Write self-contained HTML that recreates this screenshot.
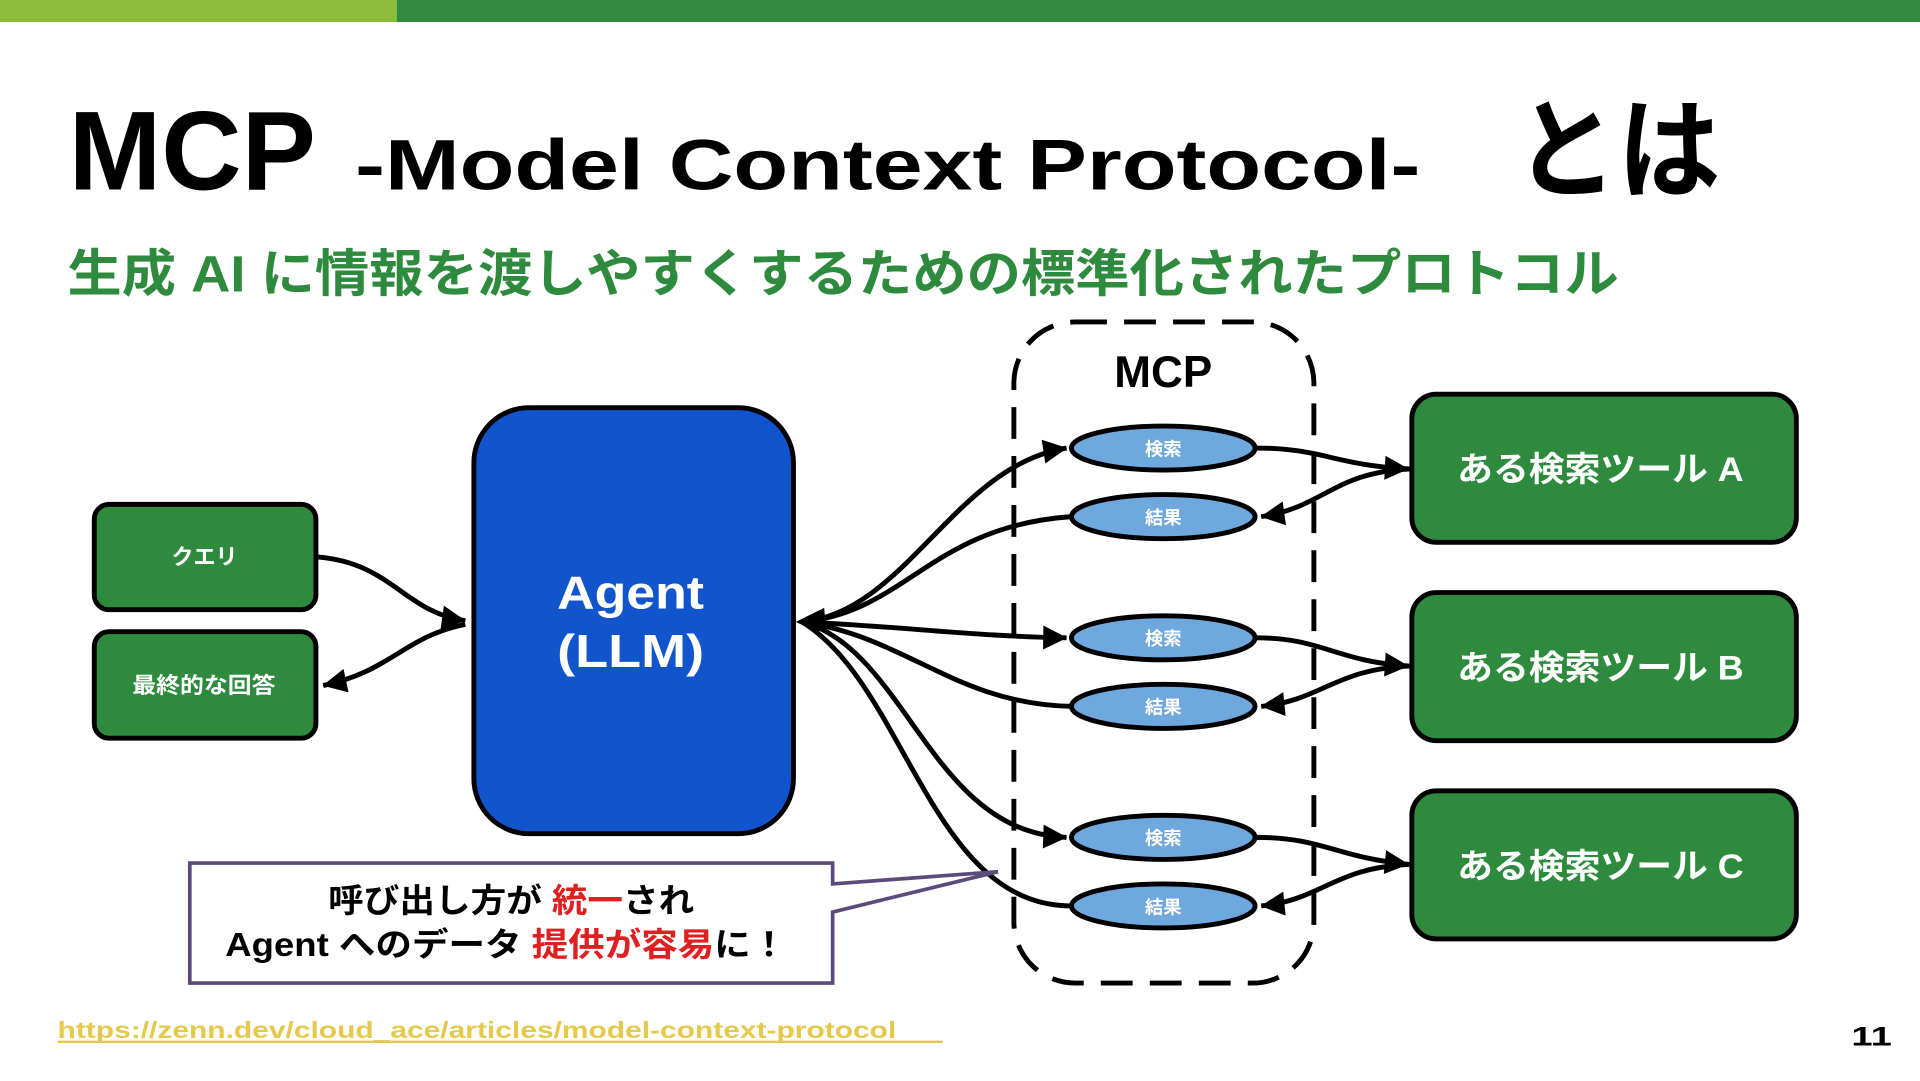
<!DOCTYPE html>
<html><head><meta charset="utf-8"><style>
html,body{margin:0;padding:0;background:#fff;}
svg{display:block;}
text{font-family:"Liberation Sans","Noto Sans CJK JP",sans-serif;font-weight:bold;}
</style></head><body>
<svg width="1920" height="1081" viewBox="0 0 1568 883" preserveAspectRatio="none" xmlns="http://www.w3.org/2000/svg">
<defs>
<marker id="a" viewBox="0 0 10 10" refX="9" refY="5" markerWidth="7" markerHeight="7" markerUnits="userSpaceOnUse" orient="auto" style="overflow:visible">
<path d="M0,0 L10,5 L0,10 z" fill="#000" transform="scale(2.8) translate(-6.5,-3.2)"/>
</marker>
</defs>
<rect x="0" y="0" width="324" height="18" fill="#8bbd3a"/>
<rect x="324" y="0" width="1244" height="18" fill="#338a41"/>
<text x="56" y="155" font-size="92" textLength="202" lengthAdjust="spacingAndGlyphs">MCP</text>
<text x="290" y="155" font-size="58" textLength="870" lengthAdjust="spacingAndGlyphs">-Model Context Protocol-</text>
<text x="1237" y="155" font-size="90" textLength="168" lengthAdjust="spacingAndGlyphs">とは</text>
<text x="55" y="238" font-size="42" fill="#2e8b3e" textLength="1267" lengthAdjust="spacingAndGlyphs">生成 AI に情報を渡しやすくするための標準化されたプロトコル</text>

<rect x="828" y="263" width="245" height="540" rx="50" fill="none" stroke="#000" stroke-width="4" stroke-dasharray="26,14"/>
<text x="950" y="316" font-size="36" text-anchor="middle">MCP</text>

<g fill="none" stroke="#000" stroke-width="4">
<path d="M260,455 C320,460 330,500 380,507" marker-end="url(#a)"/>
<path d="M380,510 C330,520 320,548 264,560" marker-end="url(#a)"/>
<path d="M655,508 C740,500 780,380 871,366" marker-end="url(#a)"/>
<path d="M875,422 C760,430 740,500 655,508" marker-end="url(#a)"/>
<path d="M655,508 C740,512 800,520 871,521" marker-end="url(#a)"/>
<path d="M875,577 C780,575 740,520 655,508"/>
<path d="M655,508 C740,530 760,680 871,684" marker-end="url(#a)"/>
<path d="M875,740 C760,740 740,560 655,508"/>
<path d="M1026,366 C1080,366 1090,380 1150,383" marker-end="url(#a)"/>
<path d="M1153,383 C1090,385 1080,415 1030,422" marker-end="url(#a)"/>
<path d="M1026,521 C1080,521 1090,540 1150,544" marker-end="url(#a)"/>
<path d="M1153,544 C1090,546 1080,572 1030,577" marker-end="url(#a)"/>
<path d="M1026,684 C1080,684 1090,700 1150,706" marker-end="url(#a)"/>
<path d="M1153,706 C1090,708 1080,735 1030,740" marker-end="url(#a)"/>
</g>
<path d="M650,508 l20,-10 l-4,10 l4,10z" fill="#000"/>

<g stroke="#000" stroke-width="4" fill="#6fa8dc">
<ellipse cx="950" cy="366" rx="75" ry="18"/>
<ellipse cx="950" cy="422" rx="75" ry="18"/>
<ellipse cx="950" cy="521" rx="75" ry="18"/>
<ellipse cx="950" cy="577" rx="75" ry="18"/>
<ellipse cx="950" cy="684" rx="75" ry="18"/>
<ellipse cx="950" cy="740" rx="75" ry="18"/>
</g>
<g fill="#fff" font-size="15" text-anchor="middle">
<text x="950" y="372">検索</text><text x="950" y="428">結果</text>
<text x="950" y="527">検索</text><text x="950" y="583">結果</text>
<text x="950" y="690">検索</text><text x="950" y="746">結果</text>
</g>

<g stroke="#000" stroke-width="4" fill="#2e8b3e">
<rect x="1153" y="322" width="314" height="121" rx="20"/>
<rect x="1153" y="484" width="314" height="121" rx="20"/>
<rect x="1153" y="646" width="314" height="121" rx="20"/>
<rect x="77" y="412" width="181" height="86" rx="12"/>
<rect x="77" y="516" width="181" height="87" rx="12"/>
</g>
<g fill="#fff" font-size="28">
<text x="1190" y="393" textLength="234" lengthAdjust="spacingAndGlyphs">ある検索ツール A</text>
<text x="1190" y="555" textLength="234" lengthAdjust="spacingAndGlyphs">ある検索ツール B</text>
<text x="1190" y="717" textLength="234" lengthAdjust="spacingAndGlyphs">ある検索ツール C</text>
</g>
<text x="167" y="461" font-size="18" fill="#fff" text-anchor="middle">クエリ</text>
<text x="108" y="566" font-size="18" fill="#fff" textLength="117" lengthAdjust="spacingAndGlyphs">最終的な回答</text>

<rect x="387" y="333" width="261" height="348" rx="45" fill="#1155cc" stroke="#000" stroke-width="4"/>
<text x="455" y="497" font-size="38" fill="#fff" textLength="120" lengthAdjust="spacingAndGlyphs">Agent</text>
<text x="455" y="545" font-size="38" fill="#fff" textLength="120" lengthAdjust="spacingAndGlyphs">(LLM)</text>

<path d="M155,705 L680,705 L680,722 L815,712 L680,745 L680,803 L155,803 Z" fill="#fff" stroke="#5b4a7a" stroke-width="3"/>
<text x="268" y="745" font-size="27" textLength="299" lengthAdjust="spacingAndGlyphs">呼び出し方が <tspan fill="#e02020">統一</tspan>され</text>
<text x="184" y="781" font-size="27" textLength="459" lengthAdjust="spacingAndGlyphs">Agent へのデータ <tspan fill="#e02020">提供が容易</tspan>に！</text>

<text x="47" y="848" font-size="19" fill="#e6c84a" textLength="685" lengthAdjust="spacingAndGlyphs">https://zenn.dev/cloud_ace/articles/model-context-protocol</text>
<line x1="47" y1="851" x2="770" y2="851" stroke="#e6c84a" stroke-width="2"/>
<text x="1512" y="854" font-size="22" textLength="33" lengthAdjust="spacingAndGlyphs">11</text>
</svg>
</body></html>
